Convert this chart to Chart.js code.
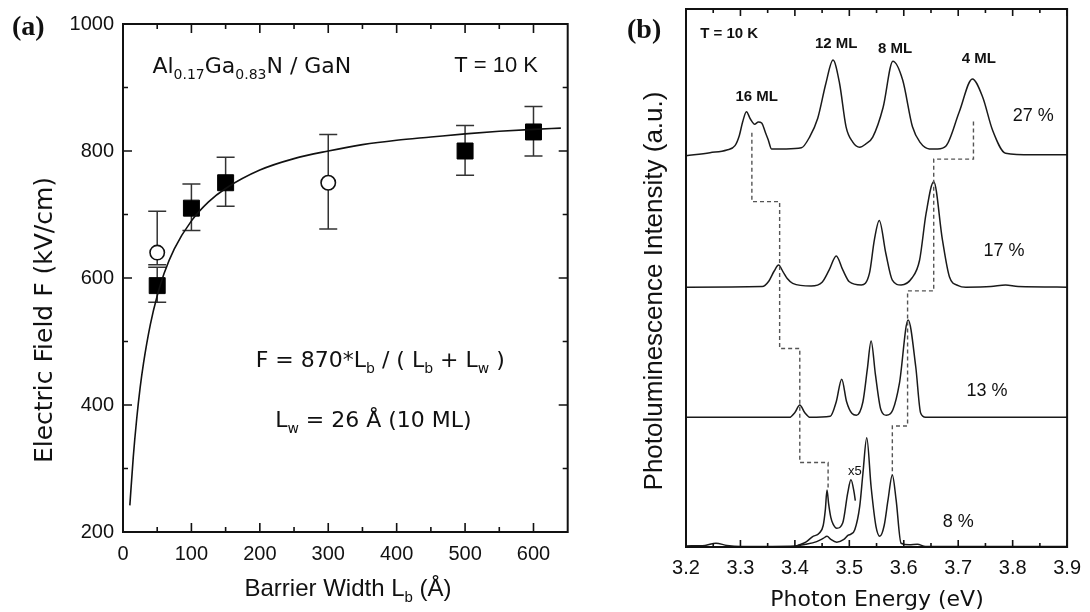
<!DOCTYPE html>
<html>
<head>
<meta charset="utf-8">
<script src="https://cdn.jsdelivr.net/npm/chart.js@4.4.0/dist/chart.umd.min.js"></script>
<style>
  body { margin: 0; background: #fff; }
  #wrap { position: relative; width: 1090px; height: 612px; overflow: hidden; }
  canvas { position: absolute; top: 0; }
  #chartA { left: 0; }
  #chartB { left: 580px; }
</style>
</head>
<body>
<div id="wrap">
  <canvas id="chartA" width="580" height="612"></canvas>
  <canvas id="chartB" width="510" height="612"></canvas>
</div>
<script>
// ---------- panel (a): electric field vs barrier width ----------
const aXTicks = [0, 100, 200, 300, 400, 500, 600];
const aXMinor = [50, 150, 250, 350, 450, 550];
const aYTicks = [200, 400, 600, 800, 1000];
const aYMinor = [300, 500, 700, 900];

const fitLb = [10, 15, 20, 25, 30, 40, 50, 60, 75, 100, 125, 150, 200, 250, 300, 350, 400, 450, 500, 550, 600, 640];
const fitF = [242, 318, 378, 427, 466, 527, 572, 607, 646, 690, 720, 741, 770, 788, 800, 810, 817, 822, 827, 831, 834, 836];

const sqLb = [50, 100, 150, 500, 600];
const sqF = [588, 710, 750, 800, 830];
const sqLo = [562, 675, 713, 762, 792];
const sqHi = [617, 748, 790, 840, 870];

const ciLb = [50, 300];
const ciF = [640, 750];
const ciLo = [621, 677];
const ciHi = [705, 826];

// ---------- panel (b): PL spectra ----------
const bXTicks = [3.2, 3.3, 3.4, 3.5, 3.6, 3.7, 3.8, 3.9];
const bXMinor = [3.25, 3.35, 3.45, 3.55, 3.65, 3.75, 3.85];

const s27E = [3.200, 3.244, 3.275, 3.290, 3.298, 3.304, 3.311, 3.318, 3.326, 3.333, 3.339, 3.346, 3.351, 3.357, 3.384, 3.412, 3.427, 3.442, 3.457, 3.470, 3.482, 3.494, 3.506, 3.519, 3.530, 3.543, 3.562, 3.580, 3.598, 3.616, 3.630, 3.647, 3.662, 3.678, 3.702, 3.726, 3.745, 3.763, 3.787, 3.836, 3.900];
const s27I = [72.7, 73.3, 73.8, 74.6, 76.5, 79.0, 80.9, 79.6, 78.6, 79.0, 78.8, 77.0, 75.7, 74.0, 74.0, 74.2, 76.2, 79.7, 86.2, 90.5, 86.2, 78.1, 75.3, 74.3, 74.9, 76.2, 81.7, 90.3, 86.8, 78.1, 75.2, 74.0, 74.0, 74.6, 80.9, 87.0, 83.6, 77.5, 73.2, 72.9, 72.9];

const s17E = [3.200, 3.340, 3.352, 3.362, 3.370, 3.378, 3.386, 3.396, 3.430, 3.450, 3.463, 3.476, 3.488, 3.500, 3.522, 3.537, 3.546, 3.555, 3.567, 3.579, 3.595, 3.615, 3.629, 3.641, 3.655, 3.671, 3.684, 3.700, 3.714, 3.760, 3.787, 3.810, 3.900];
const s17I = [48.3, 48.4, 49.4, 51.3, 52.4, 51.2, 49.9, 49.0, 48.5, 49.2, 51.5, 54.1, 51.5, 49.3, 48.7, 50.9, 57.1, 60.7, 54.6, 49.6, 48.7, 50.0, 53.3, 62.0, 67.9, 57.1, 50.2, 48.6, 48.3, 48.4, 48.7, 48.4, 48.3];

const s13E = [3.200, 3.390, 3.400, 3.409, 3.418, 3.428, 3.465, 3.476, 3.486, 3.495, 3.505, 3.513, 3.525, 3.533, 3.540, 3.548, 3.558, 3.568, 3.580, 3.592, 3.608, 3.622, 3.631, 3.640, 3.900];
const s13I = [24.1, 24.1, 25.0, 26.4, 25.0, 24.1, 24.3, 27.0, 31.2, 27.0, 24.8, 24.5, 27.0, 33.0, 38.3, 32.0, 25.5, 24.5, 25.5, 30.4, 42.2, 33.5, 24.9, 24.1, 24.1];

const s8E = [3.200, 3.235, 3.255, 3.275, 3.300, 3.400, 3.420, 3.440, 3.452, 3.459, 3.466, 3.477, 3.490, 3.498, 3.503, 3.510, 3.519, 3.525, 3.532, 3.540, 3.549, 3.556, 3.564, 3.571, 3.579, 3.586, 3.595, 3.610, 3.625, 3.640, 3.900];
const s8I = [0.2, 0.3, 0.7, 0.3, 0.1, 0.2, 0.5, 1.0, 1.6, 2.0, 1.4, 0.9, 1.4, 2.2, 2.4, 3.2, 7.5, 13.7, 20.3, 11.2, 3.8, 2.0, 4.0, 8.7, 13.4, 8.7, 0.7, 0.4, 0.5, 0.1, 0.1];

const s8x5E = [3.405, 3.420, 3.432, 3.445, 3.452, 3.456, 3.459, 3.462, 3.466, 3.470, 3.477, 3.488, 3.497, 3.503, 3.509, 3.511];
const s8x5I = [0.3, 0.9, 1.9, 2.6, 4.0, 7.0, 10.6, 8.0, 5.5, 4.3, 3.5, 4.5, 10.0, 12.5, 10.0, 8.6];

// dashed guides following the 16 ML and 4 ML peaks
const ml16E = [3.321, 3.321, 3.372, 3.372, 3.409, 3.409, 3.461, 3.461];
const ml16I = [77.0, 64.2, 64.2, 36.9, 36.9, 15.7, 15.7, 10.6];
const ml4E = [3.728, 3.728, 3.655, 3.655, 3.607, 3.607, 3.579, 3.579];
const ml4I = [79.1, 72.1, 72.1, 47.6, 47.6, 22.5, 22.5, 13.4];

const pts = (xs, ys) => xs.map((x, i) => ({ x: x, y: ys[i] }));

Chart.defaults.font.family = "'Liberation Sans', Arial, sans-serif";
Chart.defaults.color = '#111';

// inward ticks on all four sides + frame
const frameTicks = {
  id: 'frameTicks',
  afterDatasetsDraw(chart, args, o) {
    const { ctx, chartArea: a } = chart;
    const x = chart.scales.x, y = chart.scales.y;
    ctx.save();
    ctx.strokeStyle = '#111';
    ctx.lineWidth = 1.6;
    ctx.beginPath();
    const xt = (vals, len) => vals.forEach(v => {
      const p = x.getPixelForValue(v);
      ctx.moveTo(p, a.bottom); ctx.lineTo(p, a.bottom - len);
      ctx.moveTo(p, a.top); ctx.lineTo(p, a.top + len);
    });
    const yt = (vals, len) => vals.forEach(v => {
      const p = y.getPixelForValue(v);
      ctx.moveTo(a.left, p); ctx.lineTo(a.left + len, p);
      ctx.moveTo(a.right, p); ctx.lineTo(a.right - len, p);
    });
    xt(o.xMajor || [], o.major);
    xt(o.xMinor || [], o.minor);
    yt(o.yMajor || [], o.major);
    yt(o.yMinor || [], o.minor);
    ctx.stroke();
    ctx.lineWidth = 2;
    ctx.strokeRect(a.left, a.top, a.right - a.left, a.bottom - a.top);
    ctx.restore();
  }
};

// vertical error bars with caps
const errorBars = {
  id: 'errorBars',
  beforeDatasetsDraw(chart) {
    const { ctx } = chart;
    const y = chart.scales.y;
    ctx.save();
    ctx.strokeStyle = '#333';
    ctx.lineWidth = 1.5;
    chart.data.datasets.forEach((ds, i) => {
      if (!ds.errLo) return;
      chart.getDatasetMeta(i).data.forEach((pt, j) => {
        const lo = y.getPixelForValue(ds.errLo[j]);
        const hi = y.getPixelForValue(ds.errHi[j]);
        ctx.beginPath();
        ctx.moveTo(pt.x, lo); ctx.lineTo(pt.x, hi);
        ctx.moveTo(pt.x - 9, lo); ctx.lineTo(pt.x + 9, lo);
        ctx.moveTo(pt.x - 9, hi); ctx.lineTo(pt.x + 9, hi);
        ctx.stroke();
      });
    });
    ctx.restore();
  }
};

// text with subscripts; items either in data coords (x, y) or canvas pixels (px, py)
function drawRich(ctx, parts, x, y, align, font, subFont, subShift) {
  let w = 0;
  parts.forEach(p => { ctx.font = p[1] ? subFont : font; w += ctx.measureText(p[0]).width; });
  let cx = align === 'center' ? x - w / 2 : x;
  parts.forEach(p => {
    ctx.font = p[1] ? subFont : font;
    ctx.fillText(p[0], cx, y + (p[1] ? subShift : 0));
    cx += ctx.measureText(p[0]).width;
  });
}

const richText = {
  id: 'richText',
  afterDraw(chart, args, o) {
    const { ctx } = chart;
    ctx.save();
    ctx.fillStyle = '#111';
    ctx.textAlign = 'left';
    ctx.textBaseline = 'alphabetic';
    o.items.forEach(it => {
      const px = it.px !== undefined ? it.px : chart.scales.x.getPixelForValue(it.x);
      const py = it.py !== undefined ? it.py : chart.scales.y.getPixelForValue(it.y);
      ctx.save();
      ctx.translate(px, py);
      if (it.rotate) ctx.rotate(-Math.PI / 2);
      drawRich(ctx, it.parts, 0, 0, it.align || 'left', it.font, it.subFont || it.font, it.subShift || 0);
      ctx.restore();
    });
    ctx.restore();
  }
};

const DV = "'DejaVu Sans', sans-serif";
const LS = "'Liberation Sans', Arial, sans-serif";
const LSerif = "'Liberation Serif', 'Times New Roman', serif";

new Chart(document.getElementById('chartA'), {
  type: 'line',
  data: {
    datasets: [
      {
        data: pts(fitLb, fitF),
        borderColor: '#111',
        borderWidth: 1.6,
        pointRadius: 0,
        cubicInterpolationMode: 'monotone',
        fill: false
      },
      {
        data: pts(sqLb, sqF),
        errLo: sqLo,
        errHi: sqHi,
        showLine: false,
        pointStyle: 'rect',
        pointRadius: 11.3,
        backgroundColor: '#000',
        borderColor: '#000',
        borderWidth: 1
      },
      {
        data: pts(ciLb, ciF),
        errLo: ciLo,
        errHi: ciHi,
        showLine: false,
        pointStyle: 'circle',
        pointRadius: 7.2,
        backgroundColor: '#fff',
        borderColor: '#111',
        borderWidth: 1.6
      }
    ]
  },
  options: {
    responsive: false,
    animation: false,
    layout: { padding: { top: 24, right: 7, left: 0, bottom: 0 } },
    plugins: {
      legend: { display: false },
      tooltip: { enabled: false },
      frameTicks: { xMajor: aXTicks, xMinor: aXMinor, yMajor: aYTicks, yMinor: aYMinor, major: 9, minor: 5 },
      richText: {
        items: [
          { x: 43, y: 923, font: '22px ' + DV, subFont: '14px ' + DV, subShift: 6,
            parts: [['Al'], ['0.17', 1], ['Ga'], ['0.83', 1], ['N / GaN']] },
          { x: 484, y: 924, font: '22px ' + LS, parts: [['T = 10 K']] },
          { x: 376, y: 460, align: 'center', font: '22px ' + DV, subFont: '14px ' + DV, subShift: 6,
            parts: [['F = 870*L'], ['b', 1], [' / ( L'], ['b', 1], [' + L'], ['w', 1], [' )']] },
          { x: 366, y: 366, align: 'center', font: '22px ' + DV, subFont: '14px ' + DV, subShift: 6,
            parts: [['L'], ['w', 1], [' = 26 Å (10 ML)']] },
          { px: 348, py: 596, align: 'center', font: '24px ' + LS, subFont: '15px ' + LS, subShift: 6,
            parts: [['Barrier Width L'], ['b', 1], [' (Å)']] },
          { px: 52, py: 320, rotate: true, align: 'center', font: '25px ' + DV,
            parts: [['Electric Field F (kV/cm)']] },
          { px: 12, py: 35, font: 'bold 28px ' + LSerif, parts: [['(a)']] }
        ]
      }
    },
    scales: {
      x: {
        type: 'linear',
        min: 0,
        max: 650,
        afterBuildTicks: s => { s.ticks = aXTicks.map(v => ({ value: v })); },
        afterFit: s => { s.height = 80; },
        grid: { display: false, drawTicks: false },
        border: { display: false },
        ticks: { font: { size: 20 }, padding: 10, maxRotation: 0, callback: v => v }
      },
      y: {
        type: 'linear',
        min: 200,
        max: 1000,
        afterBuildTicks: s => { s.ticks = aYTicks.map(v => ({ value: v })); },
        afterFit: s => { s.width = 123; },
        grid: { display: false, drawTicks: false },
        border: { display: false },
        ticks: { font: { size: 20 }, padding: 9, callback: v => v }
      }
    }
  },
  plugins: [errorBars, frameTicks, richText]
});

const specStyle = {
  borderColor: '#1a1a1a',
  borderWidth: 1.5,
  pointRadius: 0,
  cubicInterpolationMode: 'monotone',
  fill: false
};
const dashStyle = {
  borderColor: '#555',
  borderWidth: 1.4,
  borderDash: [4, 3],
  pointRadius: 0,
  tension: 0,
  fill: false
};

new Chart(document.getElementById('chartB'), {
  type: 'line',
  data: {
    datasets: [
      Object.assign({ data: pts(ml16E, ml16I) }, dashStyle),
      Object.assign({ data: pts(ml4E, ml4I) }, dashStyle),
      Object.assign({ data: pts(s27E, s27I) }, specStyle),
      Object.assign({ data: pts(s17E, s17I) }, specStyle),
      Object.assign({ data: pts(s13E, s13I) }, specStyle),
      Object.assign({ data: pts(s8E, s8I) }, specStyle),
      Object.assign({ data: pts(s8x5E, s8x5I) }, specStyle)
    ]
  },
  options: {
    responsive: false,
    animation: false,
    layout: { padding: { top: 9, right: 22, left: 0, bottom: 0 } },
    plugins: {
      legend: { display: false },
      tooltip: { enabled: false },
      frameTicks: { xMajor: bXTicks, xMinor: bXMinor, major: 7, minor: 4 },
      richText: {
        items: [
          { x: 3.226, y: 94.6, font: 'bold 15px ' + LS, parts: [['T = 10 K']] },
          { x: 3.476, y: 92.7, align: 'center', font: 'bold 15px ' + LS, parts: [['12 ML']] },
          { x: 3.584, y: 91.9, align: 'center', font: 'bold 15px ' + LS, parts: [['8 ML']] },
          { x: 3.738, y: 89.9, align: 'center', font: 'bold 15px ' + LS, parts: [['4 ML']] },
          { x: 3.330, y: 82.9, align: 'center', font: 'bold 15px ' + LS, parts: [['16 ML']] },
          { x: 3.838, y: 79.2, align: 'center', font: '18px ' + LS, parts: [['27 %']] },
          { x: 3.784, y: 54.1, align: 'center', font: '18px ' + LS, parts: [['17 %']] },
          { x: 3.753, y: 28.1, align: 'center', font: '18px ' + LS, parts: [['13 %']] },
          { x: 3.700, y: 3.8, align: 'center', font: '18px ' + LS, parts: [['8 %']] },
          { x: 3.510, y: 13.4, align: 'center', font: '13px ' + LS, parts: [['x5']] },
          { px: 297, py: 606, align: 'center', font: '22px ' + DV, parts: [['Photon Energy (eV)']] },
          { px: 82, py: 291, rotate: true, align: 'center', font: '26px ' + LS, parts: [['Photoluminescence Intensity (a.u.)']] },
          { px: 47, py: 38, font: 'bold 28px ' + LSerif, parts: [['(b)']] }
        ]
      }
    },
    scales: {
      x: {
        type: 'linear',
        min: 3.2,
        max: 3.9,
        afterBuildTicks: s => { s.ticks = bXTicks.map(v => ({ value: v })); },
        afterFit: s => { s.height = 65; },
        grid: { display: false, drawTicks: false },
        border: { display: false },
        ticks: { font: { size: 20 }, padding: 9, maxRotation: 0, callback: v => v.toFixed(1) }
      },
      y: {
        type: 'linear',
        min: 0,
        max: 100,
        afterFit: s => { s.width = 106; },
        grid: { display: false, drawTicks: false },
        border: { display: false },
        ticks: { display: false }
      }
    }
  },
  plugins: [frameTicks, richText]
});
</script>
</body>
</html>
